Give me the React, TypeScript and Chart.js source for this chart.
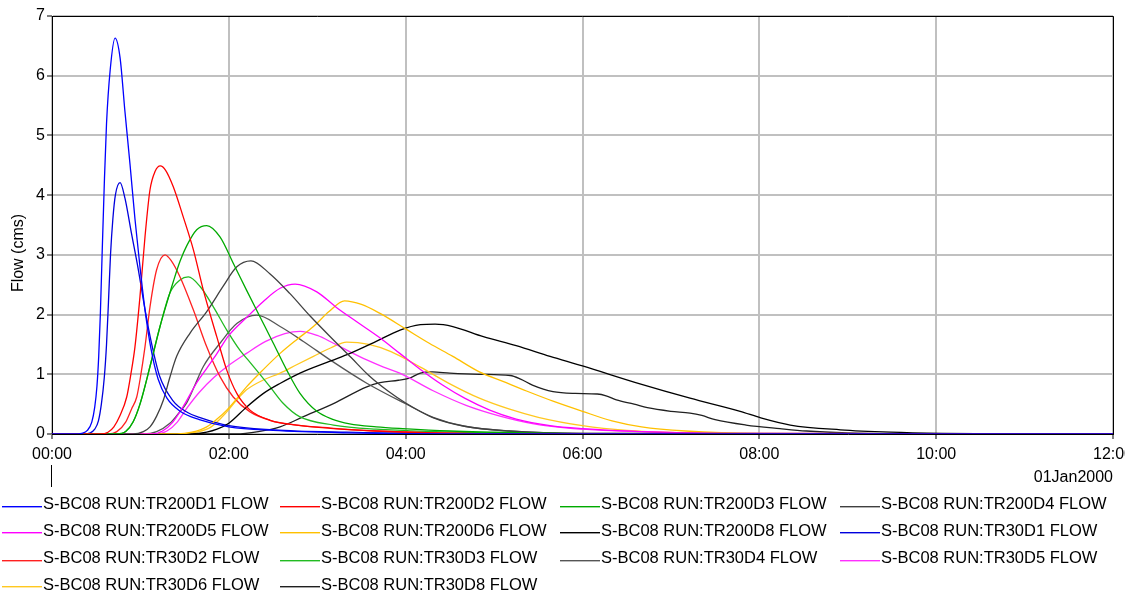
import React, { useEffect, useRef } from 'react';
import { Chart, registerables } from 'chart.js';

Chart.register(...registerables);

// ---- Data (time in minutes after 00:00, flow in cms) ----
const seriesNames = [
  'S-BC08 RUN:TR200D1 FLOW', 'S-BC08 RUN:TR200D2 FLOW', 'S-BC08 RUN:TR200D3 FLOW', 'S-BC08 RUN:TR200D4 FLOW',
  'S-BC08 RUN:TR200D5 FLOW', 'S-BC08 RUN:TR200D6 FLOW', 'S-BC08 RUN:TR200D8 FLOW', 'S-BC08 RUN:TR30D1 FLOW',
  'S-BC08 RUN:TR30D2 FLOW', 'S-BC08 RUN:TR30D3 FLOW', 'S-BC08 RUN:TR30D4 FLOW', 'S-BC08 RUN:TR30D5 FLOW',
  'S-BC08 RUN:TR30D6 FLOW', 'S-BC08 RUN:TR30D8 FLOW',
];
const seriesColors = [
  '#0000ff', '#ff0000', '#00aa00', '#404040',
  '#ff00ff', '#ffc000', '#000000', '#0000dd',
  '#ff2020', '#22bb22', '#555555', '#ff30ff',
  '#ffc820', '#202020',
];

const t200d1 = [0, 16, 20, 24, 27, 29, 30.5, 31.7, 32.8, 34, 35.5, 37, 39.5, 42.8, 46.2, 49.5, 53, 56.3, 59.7, 63, 67, 72, 78, 87, 100, 120, 150, 200, 280, 720];
const q200d1 = [0, 0, 0.01, 0.06, 0.2, 0.45, 0.8, 1.3, 2.0, 3.0, 4.2, 5.2, 6.1, 6.63, 6.3, 5.4, 4.5, 3.6, 2.8, 2.1, 1.45, 0.92, 0.6, 0.38, 0.24, 0.12, 0.06, 0.02, 0, 0];

const t200d2 = [0, 33, 38, 42, 46, 50.7, 53.5, 56.3, 59.7, 63.1, 66.5, 70, 73.5, 77, 82.3, 89, 96, 102.7, 111.8, 118.6, 125.4, 134.4, 148, 166, 189, 220, 260, 330, 720];
const q200d2 = [0, 0, 0.03, 0.12, 0.3, 0.62, 1.0, 1.46, 2.3, 3.3, 4.09, 4.4, 4.49, 4.42, 4.14, 3.64, 3.08, 2.41, 1.63, 1.07, 0.68, 0.4, 0.23, 0.15, 0.095, 0.05, 0.02, 0, 0];

const t200d3 = [0, 44, 50, 55, 59.7, 66.5, 73.3, 78, 82.3, 87, 91.4, 98.2, 105, 114, 123, 132, 141.2, 150.2, 159.3, 168.3, 179.7, 190, 202, 220, 238, 270, 320, 400, 720];
const q200d3 = [0, 0, 0.04, 0.2, 0.5, 1.13, 1.8, 2.2, 2.55, 2.9, 3.15, 3.42, 3.49, 3.3, 2.86, 2.41, 1.96, 1.52, 1.07, 0.68, 0.38, 0.25, 0.17, 0.12, 0.09, 0.05, 0.02, 0, 0];

const t200d4 = [0, 55, 62, 66.5, 71, 75.6, 80, 84.6, 93.7, 105, 116.3, 125.4, 135, 148, 161.5, 175, 190, 203, 215, 228, 240, 258, 280, 310, 360, 720];
const q200d4 = [0, 0, 0.04, 0.12, 0.3, 0.57, 0.95, 1.3, 1.69, 2.05, 2.48, 2.8, 2.9, 2.68, 2.35, 1.98, 1.6, 1.28, 0.98, 0.72, 0.52, 0.28, 0.13, 0.05, 0.01, 0];

const t200d5 = [0, 68, 75, 82, 90, 98, 105, 112, 120, 132, 143.4, 154.8, 165, 179.7, 193, 206.8, 222, 236, 250, 265, 280, 297, 315, 338, 360, 400, 460, 720];
const q200d5 = [0, 0, 0.05, 0.2, 0.5, 0.85, 1.1, 1.35, 1.65, 1.95, 2.22, 2.44, 2.51, 2.38, 2.12, 1.88, 1.62, 1.35, 1.08, 0.82, 0.6, 0.4, 0.25, 0.14, 0.09, 0.04, 0.01, 0];

const t200d6 = [0, 85, 95, 105, 112, 118.6, 125, 132, 143, 154.8, 166, 177.4, 188, 198.5, 210, 222.6, 240, 256, 272, 290, 306, 322, 340, 360, 380, 400, 430, 480, 720];
const q200d6 = [0, 0, 0.03, 0.12, 0.25, 0.4, 0.58, 0.79, 1.07, 1.35, 1.58, 1.8, 2.05, 2.23, 2.17, 2.02, 1.76, 1.52, 1.3, 1.04, 0.88, 0.72, 0.55, 0.38, 0.22, 0.12, 0.05, 0.01, 0];

const t200d8 = [0, 95, 105, 112, 120, 132, 143.5, 155, 168.3, 188.7, 202.3, 220, 236.2, 250, 260, 272, 292.7, 315, 338, 360, 399, 433, 467, 481, 501, 535, 569, 604, 650, 720];
const q200d8 = [0, 0, 0.03, 0.08, 0.18, 0.45, 0.68, 0.85, 1.02, 1.22, 1.35, 1.55, 1.74, 1.83, 1.84, 1.8, 1.63, 1.48, 1.3, 1.14, 0.84, 0.6, 0.38, 0.27, 0.15, 0.07, 0.03, 0.01, 0, 0];

const t30d1 = [0, 22, 26, 29, 31.5, 33.5, 35.5, 37, 38.3, 39.7, 41.3, 43, 46.2, 49.5, 54, 58.6, 63, 67.7, 73, 82, 92, 100, 120, 150, 200, 280, 720];
const q30d1 = [0, 0, 0.02, 0.08, 0.22, 0.5, 0.95, 1.5, 2.2, 3.0, 3.6, 4.0, 4.21, 3.95, 3.35, 2.75, 2.1, 1.5, 0.97, 0.56, 0.36, 0.28, 0.14, 0.07, 0.03, 0, 0];

const t30d2 = [0, 38, 44, 50, 54, 57.5, 60, 63.1, 66.5, 71, 76.7, 81, 86.9, 95.9, 105, 114, 123, 134.4, 148, 166, 189, 220, 260, 330, 720];
const q30d2 = [0, 0, 0.04, 0.2, 0.42, 0.62, 0.95, 1.46, 2.13, 2.75, 3.0, 2.9, 2.63, 2.08, 1.46, 0.96, 0.62, 0.37, 0.23, 0.15, 0.1, 0.05, 0.02, 0, 0];

const t30d3 = [0, 44, 50, 55, 59.7, 66.5, 73.3, 80, 86.9, 92.5, 100.5, 109.5, 118.6, 127.6, 134.4, 148, 157, 168, 191, 220, 260, 320, 400, 720];
const q30d3 = [0, 0, 0.04, 0.2, 0.5, 1.13, 1.8, 2.36, 2.58, 2.63, 2.47, 2.13, 1.74, 1.4, 1.2, 0.79, 0.51, 0.29, 0.15, 0.08, 0.04, 0.01, 0, 0];

const t30d4 = [0, 62, 71, 80, 86, 91.4, 97, 102.7, 114, 125.4, 139, 154.8, 170.6, 190, 213.6, 239.6, 258.6, 280, 310, 360, 720];
const q30d4 = [0, 0, 0.04, 0.18, 0.35, 0.52, 0.82, 1.13, 1.52, 1.85, 1.99, 1.8, 1.55, 1.22, 0.85, 0.51, 0.28, 0.13, 0.05, 0.01, 0];

const t30d5 = [0, 70, 78, 85, 92, 100, 110, 120, 132, 145, 158, 168.3, 180, 191, 202, 213.6, 225, 236, 259, 281, 304, 327, 350, 400, 460, 720];
const q30d5 = [0, 0, 0.05, 0.2, 0.45, 0.7, 0.95, 1.15, 1.35, 1.55, 1.68, 1.72, 1.65, 1.52, 1.38, 1.24, 1.12, 1.02, 0.72, 0.48, 0.3, 0.17, 0.1, 0.04, 0.01, 0];

const t30d6 = [0, 88, 98, 108, 118.6, 125, 132, 143, 154.8, 166, 177.4, 189, 200, 215, 230, 250, 270, 290, 310, 330, 360, 390, 430, 480, 720];
const q30d6 = [0, 0, 0.03, 0.12, 0.37, 0.56, 0.74, 0.9, 1.02, 1.16, 1.3, 1.44, 1.54, 1.5, 1.38, 1.12, 0.84, 0.6, 0.42, 0.28, 0.14, 0.06, 0.02, 0, 0];

const t30d8 = [0, 125, 140, 154.8, 170.6, 191, 213.6, 222.6, 235, 242, 250, 258, 270, 290, 311, 318, 326, 340, 355, 370, 376, 383, 395, 404, 420, 433, 441, 450, 471, 494, 512, 540, 600, 720];
const q30d8 = [0, 0, 0.04, 0.12, 0.29, 0.51, 0.79, 0.86, 0.9, 0.93, 1.02, 1.04, 1.02, 1.0, 0.98, 0.92, 0.82, 0.71, 0.68, 0.67, 0.64, 0.57, 0.5, 0.44, 0.38, 0.35, 0.31, 0.24, 0.15, 0.09, 0.05, 0.02, 0, 0];

const seriesTimes = [t200d1, t200d2, t200d3, t200d4, t200d5, t200d6, t200d8, t30d1, t30d2, t30d3, t30d4, t30d5, t30d6, t30d8];
const seriesFlows = [q200d1, q200d2, q200d3, q200d4, q200d5, q200d6, q200d8, q30d1, q30d2, q30d3, q30d4, q30d5, q30d6, q30d8];

const xTickStep = 120;
const yTickStep = 1;
const dateLabel = '01Jan2000';
const yAxisTitle = 'Flow (cms)';

const FONT = '"Liberation Sans", Arial, sans-serif';

const fmtTime = (v: number) => {
  const h = Math.floor(v / 60);
  const m = Math.round(v - h * 60);
  return `${String(h).padStart(2, '0')}:${String(m).padStart(2, '0')}`;
};

const decorPlugin = {
  id: 'decor',
  afterDatasetsDraw(chart: any) {
    const { ctx, chartArea } = chart;
    ctx.save();
    ctx.strokeStyle = '#000';
    ctx.lineWidth = 1;
    ctx.beginPath();
    ctx.moveTo(chartArea.left, chartArea.top + 0.5);
    ctx.lineTo(chartArea.right + 0.5, chartArea.top + 0.5);
    ctx.lineTo(chartArea.right + 0.5, chartArea.bottom);
    ctx.stroke();
    ctx.restore();
  },
  afterDraw(chart: any) {
    const { ctx, chartArea } = chart;
    ctx.save();
    // y axis title
    ctx.fillStyle = '#000';
    ctx.font = `16px ${FONT}`;
    ctx.textAlign = 'center';
    ctx.textBaseline = 'middle';
    ctx.save();
    ctx.translate(19, 253);
    ctx.rotate(-Math.PI / 2);
    ctx.fillText(yAxisTitle, 0, 0);
    ctx.restore();
    // day marker
    ctx.strokeStyle = '#000';
    ctx.lineWidth = 1;
    ctx.beginPath();
    ctx.moveTo(chartArea.left - 0.5, 465);
    ctx.lineTo(chartArea.left - 0.5, 487);
    ctx.stroke();
    // date label
    ctx.textAlign = 'right';
    ctx.fillText(dateLabel, chartArea.right, 478);
    // legend
    const colX = [2, 280, 560, 840];
    const rowY = [504, 531, 558, 585];
    const lineRow = [506, 532, 560, 586];
    ctx.font = `16.5px ${FONT}`;
    seriesNames.forEach((name, i) => {
      const r = Math.floor(i / 4);
      const c = i % 4;
      const x = colX[c];
      const y = rowY[r];
      ctx.fillStyle = seriesColors[i];
      ctx.fillRect(x, lineRow[r], 40, 1.4);
      ctx.fillStyle = '#000';
      ctx.textAlign = 'left';
      ctx.textBaseline = 'middle';
      ctx.fillText(name, x + 41, y);
    });
    ctx.restore();
  },
};

export default function App() {
  const canvasRef = useRef<HTMLCanvasElement | null>(null);

  useEffect(() => {
    if (!canvasRef.current) return;
    const datasets = seriesNames.map((name, i) => ({
      label: name,
      data: seriesTimes[i].map((t, j) => ({ x: t, y: seriesFlows[i][j] })),
      borderColor: seriesColors[i],
      backgroundColor: seriesColors[i],
      borderWidth: 1.3,
      pointRadius: 0,
      fill: false,
      cubicInterpolationMode: 'monotone' as const,
    }));
    const gridCommon = {
      color: '#c0c0c0',
      lineWidth: 2,
      tickColor: '#000',
      tickLength: 5,
      tickWidth: 1,
    };
    const chart = new Chart(canvasRef.current, {
      type: 'line',
      data: { datasets },
      options: {
        animation: false,
        responsive: false,
        layout: { padding: { left: 0, top: 16, right: 12, bottom: 0 } },
        plugins: { legend: { display: false }, tooltip: { enabled: false }, title: { display: false } },
        scales: {
          x: {
            type: 'linear',
            min: 0,
            max: 720,
            ticks: {
              stepSize: xTickStep,
              autoSkip: false,
              maxRotation: 0,
              padding: 6,
              color: '#000',
              font: { family: FONT, size: 16 },
              callback: (v: any) => fmtTime(Number(v)),
            },
            grid: gridCommon,
            border: { color: '#000', width: 1 },
            afterFit: (s: any) => {
              s.height = 160;
              s.paddingLeft = 0;
              s.paddingRight = 0;
            },
          },
          y: {
            min: 0,
            max: 7,
            ticks: {
              stepSize: yTickStep,
              padding: 2,
              color: '#000',
              font: { family: FONT, size: 16 },
            },
            grid: gridCommon,
            border: { color: '#000', width: 1 },
            afterFit: (s: any) => {
              s.width = 52;
              s.paddingTop = 0;
              s.paddingBottom = 0;
            },
          },
        },
      },
      plugins: [decorPlugin],
    });
    return () => chart.destroy();
  }, []);

  return (
    <div style={{ position: 'absolute', left: 0, top: 0, width: 1125, height: 594, background: '#fff' }}>
      <canvas ref={canvasRef} width={1125} height={594} style={{ display: 'block' }} />
    </div>
  );
}
